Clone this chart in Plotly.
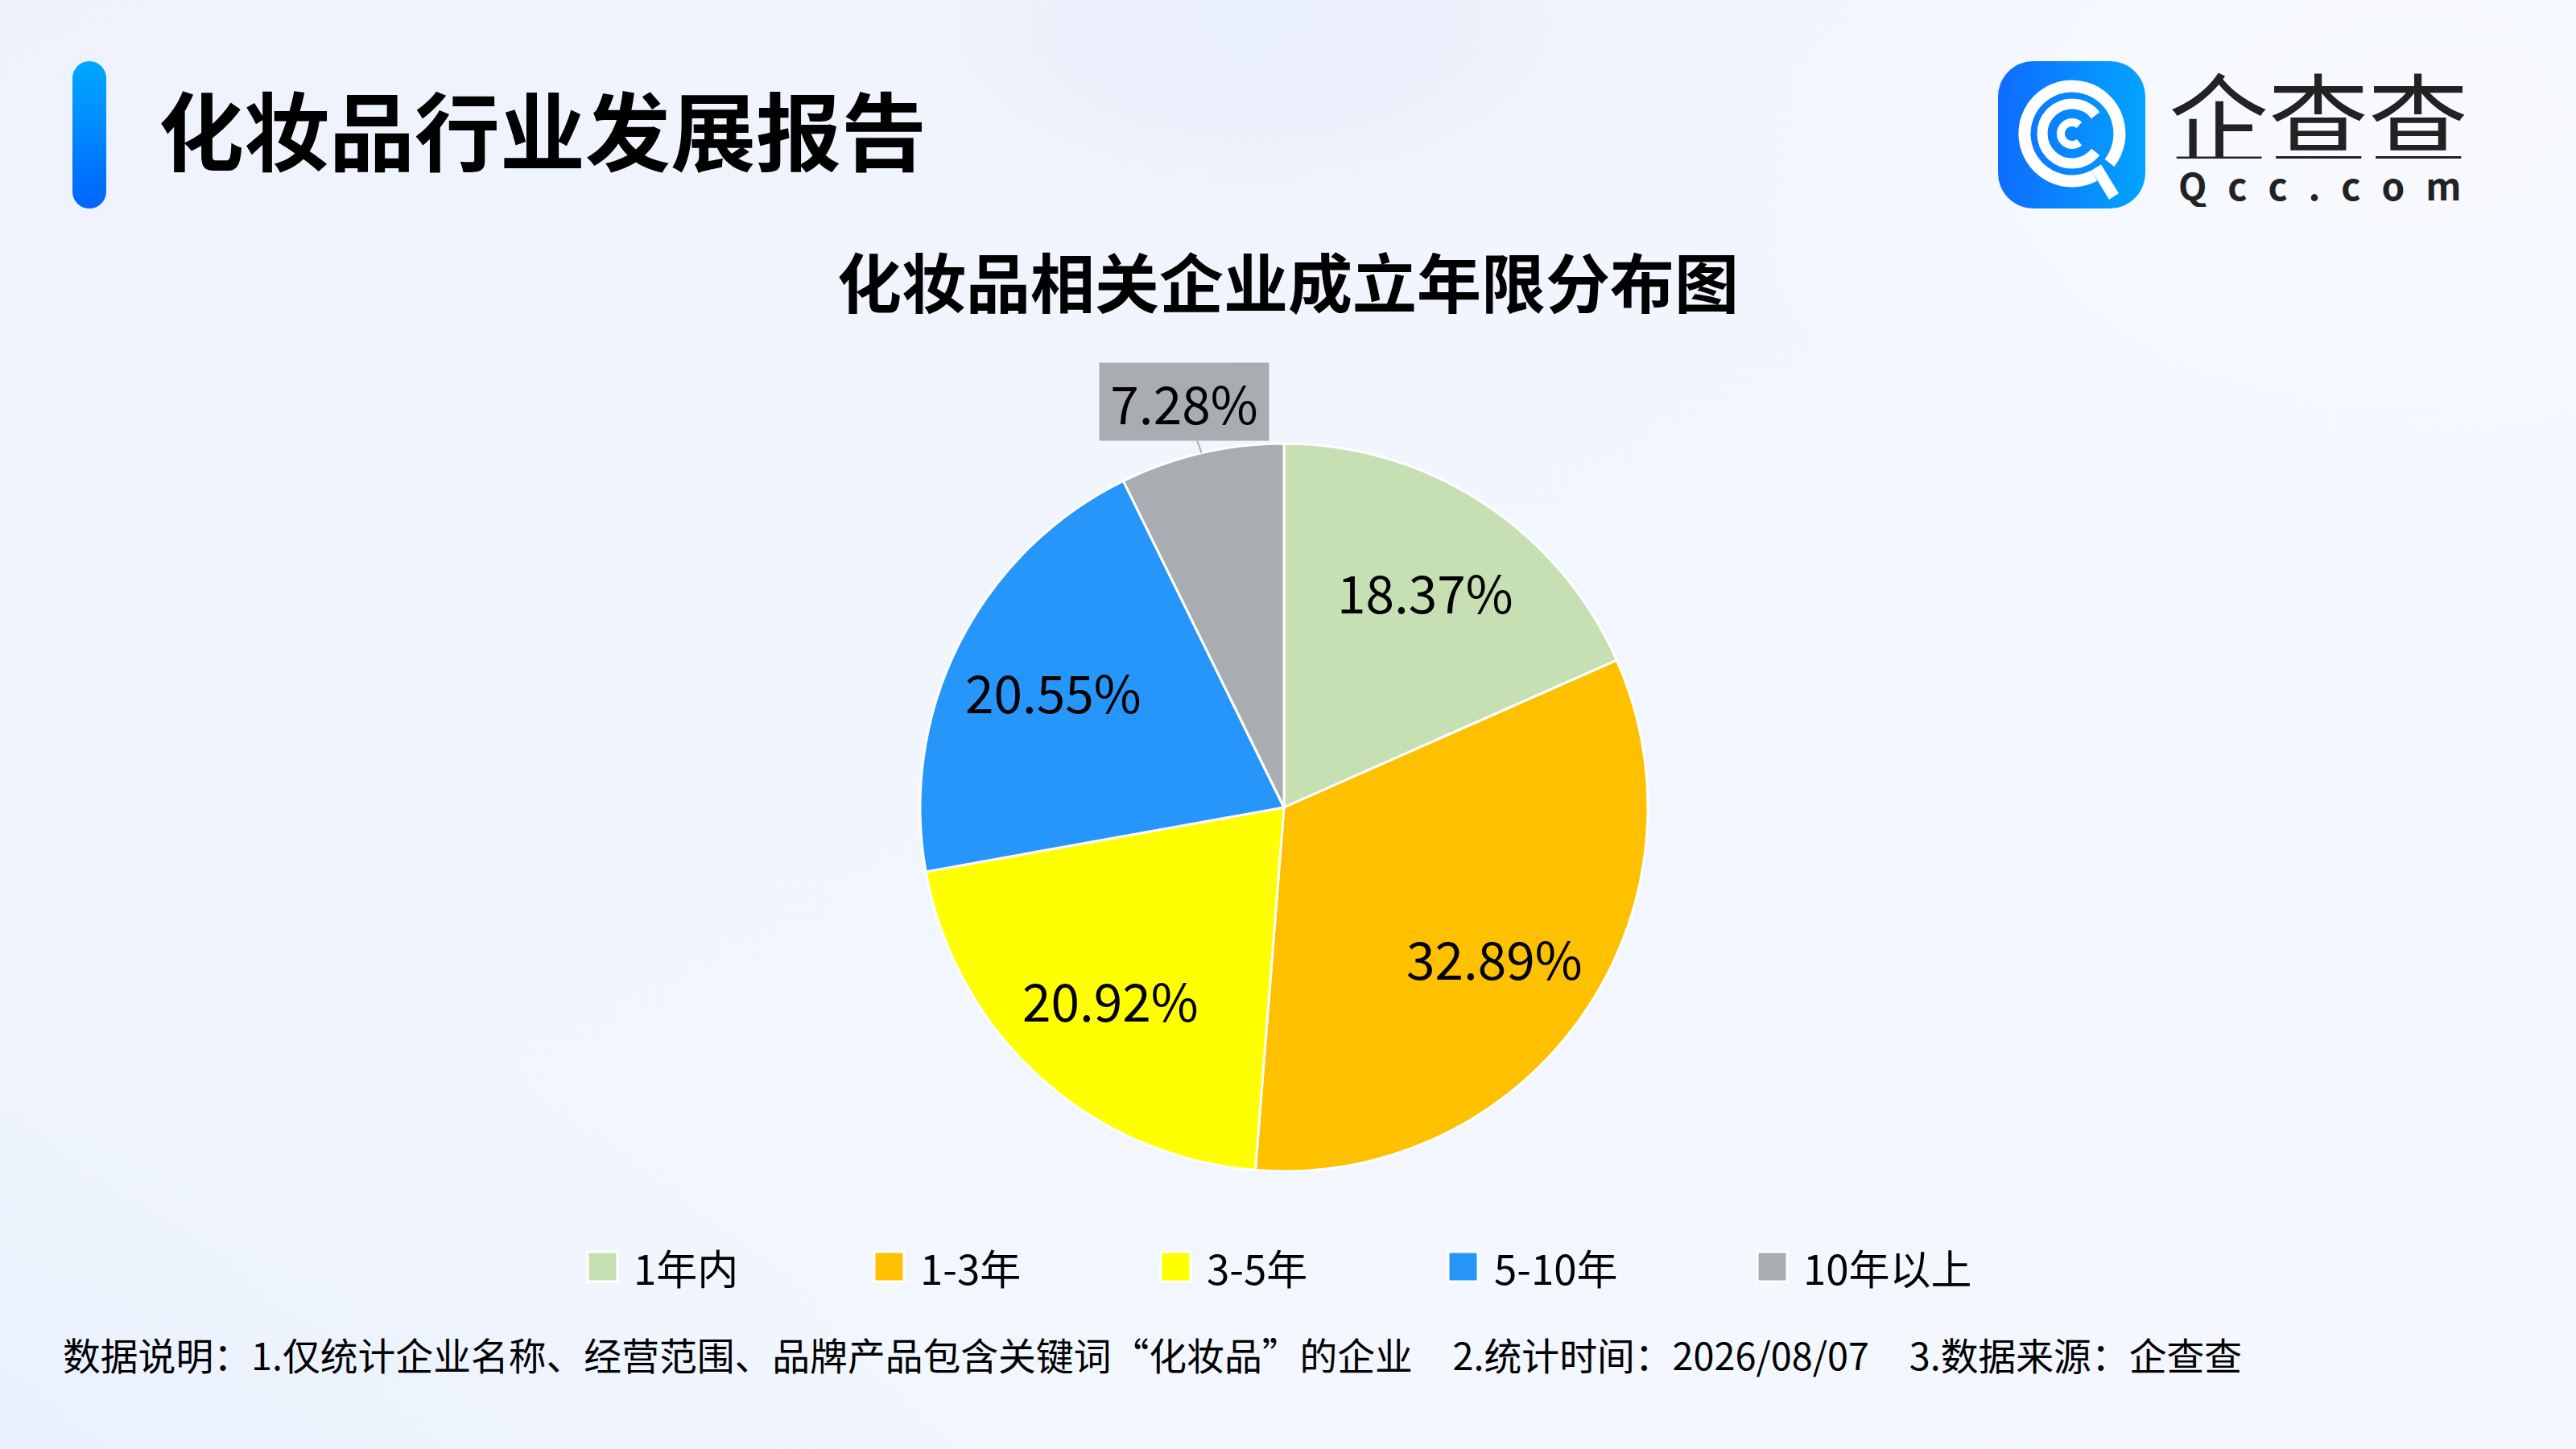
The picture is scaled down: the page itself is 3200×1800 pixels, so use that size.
import base64
import math

import plotly.graph_objects as go

# chart data
categories = ["1年内", "1-3年", "3-5年", "5-10年", "10年以上"]
shares = [18.37, 32.89, 20.92, 20.55, 7.28]
colors = ["#c6e0b4", "#ffc000", "#ffff00", "#2796fb", "#a9adb1"]

report_title = "化妆品行业发展报告"
chart_title = "化妆品相关企业成立年限分布图"
footnote = (
    "数据说明：1.仅统计企业名称、经营范围、品牌产品包含关键词“化妆品”的企业"
    "\u2003\u200a2.统计时间：2026/08/07\u2003\u200a3.数据来源：企查查"
)

W, H = 3200, 1800
FONT = "Noto Sans CJK SC"


def px(x):
    return x / W


def py(y):
    return 1 - y / H


def arc(cx, cy, r, a0, a1):
    # svg arc path, angles in degrees, clockwise with y pointing down
    x0, y0 = cx + r * math.cos(math.radians(a0)), cy + r * math.sin(math.radians(a0))
    x1, y1 = cx + r * math.cos(math.radians(a1)), cy + r * math.sin(math.radians(a1))
    large = 1 if (a1 - a0) % 360 > 180 else 0
    return f"M{x0:.1f},{y0:.1f} A{r},{r} 0 {large} 1 {x1:.1f},{y1:.1f}"


# decorative background: soft gradients, title bar, logo icon
lx, ly = 2482, 76
icx, icy = lx + 92, ly + 90
svg = f"""<svg xmlns='http://www.w3.org/2000/svg' width='{W}' height='{H}' viewBox='0 0 {W} {H}' preserveAspectRatio='none'>
<defs>
<linearGradient id='bg' x1='0' y1='0' x2='1' y2='1'>
<stop offset='0' stop-color='#edf2fc'/><stop offset='0.5' stop-color='#f2f6fe'/><stop offset='1' stop-color='#f4f7fe'/>
</linearGradient>
<radialGradient id='bl' cx='0' cy='1' r='1'>
<stop offset='0' stop-color='#d8e7fa'/><stop offset='1' stop-color='#d8e7fa' stop-opacity='0'/>
</radialGradient>
<radialGradient id='tc' cx='0.5' cy='0.5' r='0.5'>
<stop offset='0' stop-color='#e9effb'/><stop offset='0.8' stop-color='#ecf1fc'/><stop offset='1' stop-color='#eef3fd' stop-opacity='0'/>
</radialGradient>
<radialGradient id='tr' cx='0.5' cy='0.5' r='0.5'>
<stop offset='0' stop-color='#f8faff'/><stop offset='1' stop-color='#f8faff' stop-opacity='0'/>
</radialGradient>
<linearGradient id='bar' x1='0' y1='0' x2='0' y2='1'>
<stop offset='0' stop-color='#00a8ff'/><stop offset='1' stop-color='#0064ff'/>
</linearGradient>
<linearGradient id='logo' x1='0' y1='0' x2='1' y2='0'>
<stop offset='0' stop-color='#0e6cff'/><stop offset='1' stop-color='#03a4ff'/>
</linearGradient>
</defs>
<rect width='{W}' height='{H}' fill='url(#bg)'/>
<ellipse cx='200' cy='1800' rx='1500' ry='900' fill='url(#bl)'/>
<ellipse cx='3000' cy='150' rx='900' ry='600' fill='url(#tr)'/>
<ellipse cx='1560' cy='30' rx='430' ry='220' fill='url(#tc)'/>
<rect x='90' y='76' width='42' height='183' rx='21' fill='url(#bar)'/>
<rect x='{lx}' y='{ly}' width='183' height='183' rx='44' fill='url(#logo)'/>
<g fill='none' stroke='white' stroke-linecap='butt'>
<path d='{arc(icx, icy, 59, 62, 398)}' stroke-width='15'/>
<path d='{arc(icx, icy, 37, 38, 322)}' stroke-width='13'/>
<path d='{arc(icx, icy, 14, 50, 310)}' stroke-width='10'/>
<path d='M{icx + 30},{icy + 42} L{icx + 52},{icy + 78}' stroke-width='14'/>
</g>
</svg>"""
bg_src = "data:image/svg+xml;base64," + base64.b64encode(svg.encode("utf-8")).decode()

# pie placement (pixels)
cx, cy, radius = 1595, 1003, 452
dom_x = [px(cx - radius), px(cx + radius)]
dom_y = [py(cy + radius), py(cy - radius)]

fig = go.Figure(
    go.Pie(
        labels=categories,
        values=shares,
        sort=False,
        direction="clockwise",
        rotation=0,
        marker=dict(colors=colors, line=dict(color="white", width=3)),
        textinfo="none",
        hoverinfo="label+percent",
        domain=dict(x=dom_x, y=dom_y),
        showlegend=False,
    )
)

annotations = [
    dict(
        text=report_title, x=px(195), y=py(158), xanchor="left", yanchor="middle",
        font=dict(family=FONT, size=106, color="black", weight=700), showarrow=False,
    ),
    dict(
        text=chart_title, x=px(1600), y=py(347), xanchor="center", yanchor="middle",
        font=dict(family=FONT, size=80, color="black", weight=700), showarrow=False,
    ),
    dict(
        text="企查查", x=px(2880), y=py(142), xanchor="center", yanchor="middle",
        height=110, font=dict(family=FONT, size=124, color="#222222"), showarrow=False,
    ),
    dict(
        text="\u2002\u200a".join("Qcc.com"), x=px(2882), y=py(229), xanchor="center", yanchor="middle",
        height=56, font=dict(family=FONT, size=46, color="#222222", weight=700), showarrow=False,
    ),
    dict(
        text=footnote, x=px(76), y=py(1681), xanchor="left", yanchor="middle",
        font=dict(family=FONT, size=46.8, color="black"), showarrow=False,
    ),
]

# slice labels: inside for large slices, boxed with a leader line for small ones
cum = 0
for val, col in zip(shares, colors):
    ang = 2 * math.pi * (cum + val / 2) / sum(shares)
    cum += val
    if val >= 10:
        annotations.append(
            dict(
                text=f"{val:.2f}%",
                x=px(cx + 0.71 * radius * math.sin(ang)),
                y=py(cy - 0.71 * radius * math.cos(ang)),
                xanchor="center", yanchor="middle", showarrow=False,
                font=dict(family=FONT, size=64, color="black"),
            )
        )
    else:
        annotations.append(
            dict(
                text=f"{val:.2f}%",
                x=px(cx + radius * math.sin(ang)),
                y=py(cy - radius * math.cos(ang)),
                ax=-22, ay=-64, showarrow=True, arrowhead=0, arrowwidth=2, arrowcolor="#a9adb1",
                bgcolor=col, width=206, height=92, borderpad=2,
                font=dict(family=FONT, size=64, color="black"),
            )
        )

# legend row
legend_x = [730, 1086, 1442, 1799, 2183]
legend_y = 1574
shapes = []
for lx_, cat, col in zip(legend_x, categories, colors):
    shapes.append(
        dict(
            type="rect", xref="paper", yref="paper",
            x0=px(lx_), x1=px(lx_ + 37), y0=py(legend_y + 18), y1=py(legend_y - 19),
            fillcolor=col, line=dict(color="white", width=3),
        )
    )
    annotations.append(
        dict(
            text=cat, x=px(lx_ + 55), y=py(legend_y), xanchor="left", yanchor="middle",
            font=dict(family=FONT, size=51, color="black"), showarrow=False,
        )
    )

fig.update_layout(
    width=W,
    height=H,
    margin=dict(l=0, r=0, t=0, b=0),
    paper_bgcolor="#eff4fd",
    plot_bgcolor="#eff4fd",
    font=dict(family=FONT),
    images=[
        dict(
            source=bg_src, xref="paper", yref="paper", x=0, y=1, sizex=1, sizey=1,
            xanchor="left", yanchor="top", sizing="stretch", layer="below",
        )
    ],
    annotations=annotations,
    shapes=shapes,
)

# drop the default page margin so the figure fills the window
fig.write_html(
    "out.html",
    config={"displayModeBar": False},
    post_script="document.body.style.margin = '0';",
)
